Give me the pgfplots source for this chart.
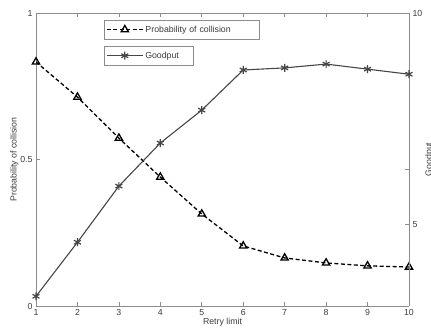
\documentclass[border=0pt]{standalone}
\usepackage{pgfplots}
\pgfplotsset{compat=1.18}
\usepackage{fontspec}
\setmainfont{Liberation Sans}
\definecolor{axgray}{RGB}{140,140,140}
\definecolor{txtgray}{RGB}{60,60,60}
\definecolor{gpgray}{RGB}{70,70,70}
\newcommand{\fs}{\fontsize{8.8}{10}\selectfont}
\pgfplotsset{
  common/.style={
    scale only axis, width=373bp, height=293bp,
    at={(0,0)}, anchor=south west,
    xmin=1, xmax=10,
    /pgf/number format/assume math mode=true,
    axis line style={axgray, line width=0.6pt},
    tick style={axgray, line width=0.6pt},
    major tick length=4bp,
    tick align=inside,
    every tick label/.append style={font=\fs, text=txtgray},
    label style={font=\fs, text=txtgray},
    legend style={font=\fs, text=txtgray, draw=axgray, fill=white, anchor=north west, inner xsep=2bp, inner ysep=3.5bp, legend cell align=left},
    legend image code/.code={\draw[mark repeat=2,mark phase=2,##1] plot coordinates {(0bp,0bp) (18bp,0bp) (36bp,0bp)};},
  }
}
\begin{document}
\begin{tikzpicture}
\path[use as bounding box] (-36bp,-25bp) rectangle (395bp,306bp);
\begin{axis}[common,
  ymin=0, ymax=1,
  axis y line*=left,
  xtick={1,...,10}, xtick pos=both,
  ytick={0,0.5,1},
  yticklabels={0,0.5,1},
  xlabel={Retry limit},
  xlabel style={at={(axis description cs:0.5,-0.04)}, anchor=north, inner sep=0pt},
  ylabel={Probability of collision},
  ylabel style={at={(axis description cs:-0.0697,0.5)}, anchor=north, inner sep=0pt},
  legend style={at={(rel axis cs:0.1823,0.976)}, nodes={text width=110bp}},
]
\addplot[black, line width=1.3bp, dash pattern=on 4bp off 2.5bp, mark=triangle, mark size=4.2bp, mark options={solid, fill=white, line width=1.3bp}]
coordinates {(1,0.833) (2,0.713) (3,0.573) (4,0.440) (5,0.314) (6,0.205) (7,0.164) (8,0.147) (9,0.137) (10,0.133)};
\addlegendentry{Probability of collision}
\end{axis}
\begin{axis}[common,
  ymin=3.06, ymax=10,
  axis x line=none,
  axis y line*=right,
  ytick={5,6.3,10},
  yticklabels={5,,10},
  ylabel={Goodput},
  ylabel style={at={(axis description cs:1.0429,0.5)}, anchor=north, inner sep=0pt},
  legend style={at={(rel axis cs:0.1823,0.887)}, nodes={text width=44bp}},
]
\addplot[gpgray, line width=1.1bp, mark=asterisk, mark size=4bp, mark options={line width=1.2bp}]
coordinates {(1,3.29) (2,4.57) (3,5.90) (4,6.92) (5,7.70) (6,8.65) (7,8.70) (8,8.79) (9,8.67) (10,8.55)};
\addlegendentry{Goodput}
\end{axis}
\end{tikzpicture}
\end{document}
